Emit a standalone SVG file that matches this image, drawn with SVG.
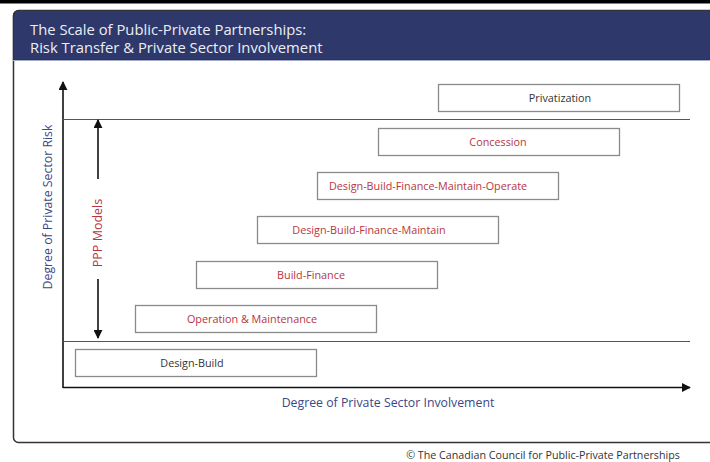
<svg xmlns="http://www.w3.org/2000/svg" width="710" height="462" viewBox="0 0 710 462">
<defs>
<marker id="ah" viewBox="0 0 10 10" refX="9" refY="5" markerWidth="9" markerHeight="9" markerUnits="userSpaceOnUse" orient="auto-start-reverse">
<path d="M0,0 L10,5 L0,10 z" fill="#111"/>
</marker>
<style>
.box{fill:#fff;stroke:#8a8a8a;stroke-width:1.3}
.t{font-family:"Open Sans","Liberation Sans",sans-serif;font-size:10.8px;text-anchor:middle;dominant-baseline:central}
.red{fill:#b8343c}
.blk{fill:#333}
.ax{stroke:#111;stroke-width:1.6;fill:none}
.thin{stroke:#555;stroke-width:1;fill:none}
.lab{font-family:"Open Sans","Liberation Sans",sans-serif;font-size:12.3px;fill:#3b4787;text-anchor:middle;dominant-baseline:central}
.hd{font-family:"Open Sans","Liberation Sans",sans-serif;font-size:14.8px;fill:#eceef5;dominant-baseline:central}
</style>
</defs>
<rect x="0" y="0" width="710" height="462" fill="#fff"/>
<rect x="0" y="0" width="710" height="3.5" fill="#000"/>
<g id="panel">
<rect x="13.5" y="10.5" width="720" height="432" rx="5" fill="#fff" stroke="#333" stroke-width="1.5"/>
<path d="M13.5,60 V16 a5.5,5.5 0 0 1 5.5,-5.5 H712 V60 z" fill="#2e386b" stroke="#333" stroke-width="1.2"/>
<line x1="13" y1="60.5" x2="710" y2="60.5" stroke="#a3abc9" stroke-width="1.2"/>
<text class="hd" x="30" y="28.5">The Scale of Public-Private Partnerships:</text>
<text class="hd" x="30" y="47">Risk Transfer &amp; Private Sector Involvement</text>
</g>
<g id="connectors">
<line class="ax" x1="63" y1="388" x2="63" y2="82" marker-end="url(#ah)"/>
<line class="ax" x1="63" y1="387.5" x2="690" y2="387.5" marker-end="url(#ah)"/>
<line class="thin" x1="63" y1="119.5" x2="690" y2="119.5"/>
<line class="thin" x1="63" y1="341.5" x2="690" y2="341.5"/>
<line class="ax" x1="98" y1="179" x2="98" y2="120" marker-end="url(#ah)"/>
<line class="ax" x1="98" y1="279" x2="98" y2="338" marker-end="url(#ah)"/>
</g>
<g id="labels">
<text class="lab" transform="translate(47,207) rotate(-90)">Degree of Private Sector Risk</text>
<text class="t red" style="font-size:12.5px" transform="translate(97,233) rotate(-90)">PPP Models</text>
<text class="lab" x="388" y="402">Degree of Private Sector Involvement</text>
<text x="543" y="454.5" font-family="Open Sans, Liberation Sans, sans-serif" font-size="10.7" fill="#333" text-anchor="middle" dominant-baseline="central">© The Canadian Council for Public-Private Partnerships</text>
</g>
<g id="privatization"><rect class="box" x="438.5" y="84.5" width="241" height="27"/><text class="t blk" x="560" y="97">Privatization</text></g>
<g id="concession"><rect class="box" x="378.5" y="128.5" width="241" height="27"/><text class="t red" x="498" y="141">Concession</text></g>
<g id="dbfmo"><rect class="box" x="317.5" y="172.5" width="241" height="27"/><text class="t red" x="428" y="185">Design-Build-Finance-Maintain-Operate</text></g>
<g id="dbfm"><rect class="box" x="257.5" y="216.5" width="241" height="27"/><text class="t red" x="369" y="229">Design-Build-Finance-Maintain</text></g>
<g id="build-finance"><rect class="box" x="196.5" y="261.5" width="241" height="27"/><text class="t red" x="311" y="274">Build-Finance</text></g>
<g id="operation-maintenance"><rect class="box" x="135.5" y="305.5" width="241" height="27"/><text class="t red" x="252" y="318">Operation &amp; Maintenance</text></g>
<g id="design-build"><rect class="box" x="75.5" y="349.5" width="241" height="27"/><text class="t blk" x="192" y="362">Design-Build</text></g>
</svg>
